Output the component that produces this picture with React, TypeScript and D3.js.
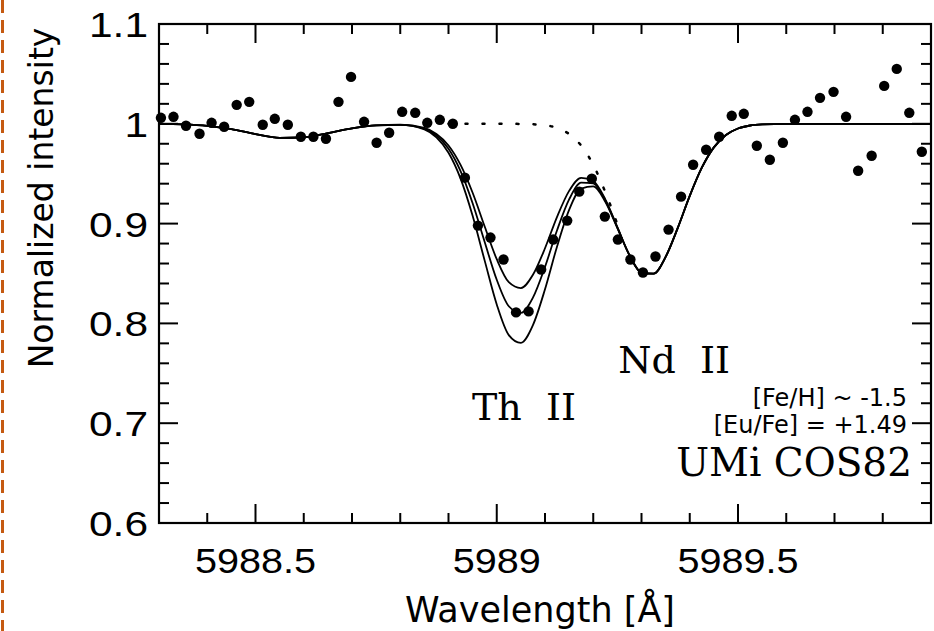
import React from 'react'
import * as d3 from 'd3'

// observed spectrum (filled circles)
const obsWave = [
  5988.304, 5988.330, 5988.356, 5988.384, 5988.409, 5988.435, 5988.461, 5988.487, 5988.515, 5988.540,
  5988.567, 5988.594, 5988.620, 5988.646, 5988.672, 5988.698, 5988.725, 5988.751, 5988.777, 5988.804,
  5988.831, 5988.856, 5988.882, 5988.909, 5988.934, 5988.961, 5988.987, 5989.014, 5989.040, 5989.066,
  5989.092, 5989.117, 5989.146, 5989.171, 5989.197, 5989.224, 5989.251, 5989.277, 5989.303, 5989.329,
  5989.356, 5989.382, 5989.407, 5989.434, 5989.461, 5989.487, 5989.512, 5989.539, 5989.566, 5989.593,
  5989.618, 5989.644, 5989.670, 5989.698, 5989.724, 5989.749, 5989.777, 5989.803, 5989.829, 5989.855,
  5989.881,
]
const obsFlux = [
  1.006, 1.007, 0.998, 0.990, 1.001, 0.997, 1.019, 1.022, 0.999, 1.005,
  0.999, 0.987, 0.987, 0.985, 1.022, 1.047, 1.002, 0.981, 0.991, 1.012,
  1.011, 1.001, 1.004, 1.000, 0.946, 0.898, 0.886, 0.864, 0.811, 0.812,
  0.854, 0.884, 0.903, 0.932, 0.945, 0.907, 0.884, 0.864, 0.851, 0.867,
  0.894, 0.927, 0.959, 0.974, 0.987, 1.008, 1.010, 0.978, 0.964, 0.981,
  1.004, 1.012, 1.026, 1.032, 1.007, 0.953, 0.968, 1.038, 1.055, 1.011,
  0.972,
]

// synthetic spectra, three Th abundances
const modelWave = [
  5988.30, 5988.35, 5988.40, 5988.45, 5988.50, 5988.55, 5988.60, 5988.65, 5988.70, 5988.75, 5988.80,
  5988.85, 5988.875, 5988.90, 5988.925, 5988.95, 5988.975, 5989.00, 5989.025, 5989.05, 5989.075,
  5989.10, 5989.125, 5989.15, 5989.175, 5989.20, 5989.225, 5989.25, 5989.275, 5989.30, 5989.325,
  5989.35, 5989.375, 5989.40, 5989.425, 5989.45, 5989.475, 5989.50, 5989.525, 5989.55,
  5989.60, 5989.70, 5989.80, 5989.90,
]
const fluxThLow = [
  1.000, 0.9995, 0.998, 0.9947, 0.9897, 0.9859, 0.9864, 0.9907, 0.9955, 0.9985, 0.9991,
  0.9958, 0.9898, 0.9783, 0.9588, 0.9309, 0.8971, 0.8643, 0.8413, 0.8354, 0.8487,
  0.8753, 0.9068, 0.9328, 0.9459, 0.9426, 0.9243, 0.8964, 0.8686, 0.8510, 0.8498,
  0.8666, 0.8955, 0.9278, 0.9560, 0.9764, 0.9888, 0.9953, 0.9983, 0.9994,
  1.000, 1.000, 1.000, 1.000,
]
const fluxThMid = [
  1.000, 0.9995, 0.998, 0.9947, 0.9897, 0.9859, 0.9864, 0.9907, 0.9955, 0.9985, 0.999,
  0.9952, 0.9883, 0.9750, 0.9526, 0.9204, 0.8816, 0.8437, 0.8172, 0.8105, 0.8258,
  0.8566, 0.8933, 0.9242, 0.9410, 0.9402, 0.9232, 0.8960, 0.8684, 0.8508, 0.8498,
  0.8666, 0.8955, 0.9278, 0.9560, 0.9764, 0.9888, 0.9953, 0.9983, 0.9994,
  1.000, 1.000, 1.000, 1.000,
]
const fluxThHigh = [
  1.000, 0.9995, 0.998, 0.9947, 0.9897, 0.9859, 0.9864, 0.9907, 0.9955, 0.9985, 0.9989,
  0.9944, 0.9864, 0.9710, 0.9451, 0.9078, 0.8629, 0.8190, 0.7883, 0.7805, 0.7983,
  0.8342, 0.8771, 0.9138, 0.9351, 0.9372, 0.9218, 0.8955, 0.8683, 0.8507, 0.8498,
  0.8666, 0.8955, 0.9278, 0.9560, 0.9764, 0.9888, 0.9953, 0.9983, 0.9994,
  1.000, 1.000, 1.000, 1.000,
]

// no-Th synthesis (dotted)
const noThWave = [5988.90, 5988.95, 5989.00, 5989.05, 5989.10, 5989.125, 5989.15, 5989.175, 5989.20, 5989.225, 5989.25]
const noThFlux = [1.000, 1.000, 1.000, 0.9999, 0.9985, 0.9958, 0.9898, 0.9782, 0.9589, 0.9315, 0.8993]

const W = 934
const H = 631
const margin = { top: 24, right: 3, bottom: 108, left: 159 }

const x = d3.scaleLinear().domain([5988.3, 5989.9]).range([margin.left, W - margin.right])
const y = d3.scaleLinear().domain([0.6, 1.1]).range([H - margin.bottom, margin.top])

const line = d3.line<[number, number]>()
  .x(d => x(d[0]))
  .y(d => y(d[1]))
  .curve(d3.curveMonotoneX)

const zip = (a: number[], b: number[]) => a.map((v, i) => [v, b[i]] as [number, number])

const tickFont = '"Liberation Sans", Arial, sans-serif'
const sansFont = '"DejaVu Sans", Verdana, sans-serif'
const serifFont = '"DejaVu Serif", "Liberation Serif", serif'

export default function App() {
  const x0 = margin.left, x1 = W - margin.right
  const y0 = margin.top, y1 = H - margin.bottom
  const isMajor = (v: number, majors: number[]) => majors.some(m => Math.abs(m - v) < 1e-6)

  const xMajor = x.ticks(4)
  const xMinor = x.ticks(16).filter(v => !isMajor(v, xMajor))
  const yMajor = y.ticks(5)
  const yMinor = y.ticks(25).filter(v => !isMajor(v, yMajor))
  const fmtY = (v: number) => String(+v.toFixed(2))
  const fmtX = (v: number) => String(+v.toFixed(1))

  const tick = (key: string, xa: number, ya: number, xb: number, yb: number) =>
    <line key={key} x1={xa} y1={ya} x2={xb} y2={yb} stroke="#000" strokeWidth={2} />

  return (
    <svg width={W} height={H} style={{ position: 'absolute', left: 0, top: 0, background: '#fff' }}>
      <line x1={2.5} y1={0} x2={2.5} y2={H} stroke="#c55a11" strokeWidth={3} strokeDasharray="13 7" />

      {/* model curves */}
      {[fluxThLow, fluxThMid, fluxThHigh].map((f, i) => (
        <path key={i} d={line(zip(modelWave, f)) || ''} fill="none" stroke="#000" strokeWidth={1.8} />
      ))}
      <path d={line(zip(noThWave, noThFlux)) || ''} fill="none" stroke="#000" strokeWidth={2.5}
        strokeDasharray="2 15" strokeLinecap="round" />

      {/* observed */}
      {obsWave.map((w, i) => (
        <circle key={i} cx={x(w)} cy={y(obsFlux[i])} r={5.2} fill="#000" />
      ))}

      {/* frame and inward ticks */}
      <rect x={x0} y={y0} width={x1 - x0} height={y1 - y0} fill="none" stroke="#000" strokeWidth={2.2} />
      {xMajor.map(v => [tick('xb' + v, x(v), y1, x(v), y1 - 19), tick('xt' + v, x(v), y0, x(v), y0 + 19)])}
      {xMinor.map(v => [tick('xbm' + v, x(v), y1, x(v), y1 - 10), tick('xtm' + v, x(v), y0, x(v), y0 + 10)])}
      {yMajor.map(v => [tick('yl' + v, x0, y(v), x0 + 19, y(v)), tick('yr' + v, x1, y(v), x1 - 19, y(v))])}
      {yMinor.map(v => [tick('ylm' + v, x0, y(v), x0 + 10, y(v)), tick('yrm' + v, x1, y(v), x1 - 10, y(v))])}

      {/* tick labels, slightly widened like the original */}
      {xMajor.map(v => (
        <text key={'xl' + v} transform={`translate(${x(v)},${y1 + 50}) scale(1.1,1)`} textAnchor="middle"
          fontFamily={tickFont} fontSize={36}>{fmtX(v)}</text>
      ))}
      {yMajor.map(v => (
        <text key={'yl' + v} transform={`translate(148,${y(v) + 13}) scale(1.18,1)`} textAnchor="end"
          fontFamily={tickFont} fontSize={36}>{fmtY(v)}</text>
      ))}

      {/* axis titles */}
      <text x={540} y={622} textAnchor="middle" fontFamily={sansFont} fontSize={35}>Wavelength [Å]</text>
      <text transform="translate(53,198) rotate(-90)" textAnchor="middle" fontFamily={sansFont} fontSize={33}>Normalized intensity</text>

      {/* annotations */}
      <text x={472} y={420} fontFamily={serifFont} fontSize={38} style={{ whiteSpace: 'pre' }}>Th  II</text>
      <text x={730} y={373} textAnchor="end" fontFamily={serifFont} fontSize={38} style={{ whiteSpace: 'pre' }}>Nd  II</text>
      <text x={907} y={406} textAnchor="end" fontFamily={sansFont} fontSize={24}>[Fe/H] ~ -1.5</text>
      <text x={907} y={433} textAnchor="end" fontFamily={sansFont} fontSize={24}>[Eu/Fe] = +1.49</text>
      <text x={912} y={476} textAnchor="end" fontFamily={serifFont} fontSize={39}>UMi COS82</text>
    </svg>
  )
}
